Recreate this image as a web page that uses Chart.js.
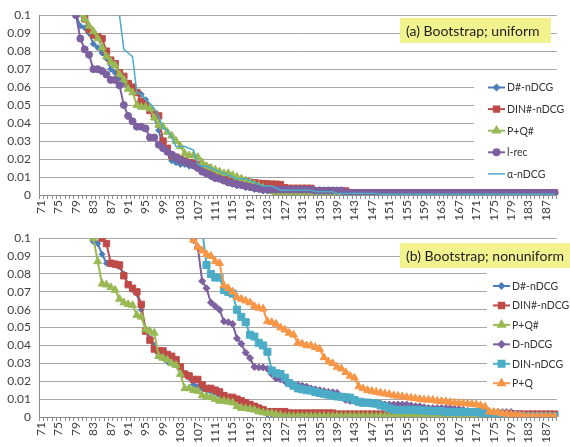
<!DOCTYPE html>
<html>
<head>
<meta charset="utf-8">
<script src="https://cdn.jsdelivr.net/npm/chart.js@4.4.1/dist/chart.umd.min.js"></script>
<style>
  html, body { margin: 0; padding: 0; background: #fff; }
  #wrapA { position: absolute; left: 0; top: 0; width: 570px; height: 222px; overflow: hidden; }
  #wrapB { position: absolute; left: 0; top: 223px; width: 570px; height: 224px; overflow: hidden; }
</style>
</head>
<body>
<div id="wrapA"><canvas id="chartA" width="570" height="250"></canvas></div>
<div id="wrapB"><canvas id="chartB" width="570" height="224"></canvas></div>
<script>
// categories 71 .. 189
const categories = [];
for (let c = 71; c <= 189; c++) categories.push(String(c));

const yTicks = [0, 0.01, 0.02, 0.03, 0.04, 0.05, 0.06, 0.07, 0.08, 0.09, 0.1];

// ---- (a) Bootstrap; uniform ----  (rows of 10: 71-80, 81-90, ...)
const aDsharp = [
  null, null, null, null, null, null, null, 0.2, 0.100, 0.094,
  0.093, 0.090, 0.084, 0.082, 0.079, 0.076, 0.070, 0.068, 0.065, 0.062,
  0.061, 0.059, 0.057, 0.056, 0.053, 0.048, 0.043, 0.036, 0.027, 0.024,
  0.019, 0.018, 0.017, 0.017, 0.016, 0.016, 0.015, 0.013, 0.012, 0.010,
  0.009, 0.009, 0.008, 0.007, 0.006, 0.005, 0.005, 0.004, 0.004, 0.003,
  0.003, 0.0022, 0.0022, 0.0022, 0.0022, 0.0022, 0.0022, 0.0022, 0.0022, 0.0022,
  0.0018, 0.0018, 0.0018, 0.0018, 0.0018, 0.0018, 0.0018, 0.0018, 0.0018, 0.0018,
  0.0012, 0.0012, 0.0012, 0.0012, 0.0012, 0.0012, 0.0012, 0.0012, 0.0012, 0.0012,
  0.0012, 0.0012, 0.0012, 0.0012, 0.0012, 0.0012, 0.0012, 0.0012, 0.0012, 0.0012,
  0.0012, 0.0012, 0.0012, 0.0012, 0.0012, 0.0012, 0.0012, 0.0012, 0.0012, 0.0012,
  0.0012, 0.0012, 0.0012, 0.0012, 0.0012, 0.0012, 0.0012, 0.0012, 0.0012, 0.0012,
  0.0012, 0.0012, 0.0012, 0.0012, 0.0012, 0.0012, 0.0012, 0.0012, 0.0012
];
const aDINsharp = [
  null, null, null, null, null, null, null, null, 0.2, 0.102,
  0.098, 0.092, 0.089, 0.088, 0.087, 0.080, 0.075, 0.073, 0.068, 0.066,
  0.062, 0.060, 0.057, 0.052, 0.050, 0.047, 0.045, 0.044, 0.030, 0.026,
  0.022, 0.021, 0.020, 0.019, 0.018, 0.018, 0.017, 0.016, 0.015, 0.013,
  0.012, 0.011, 0.010, 0.010, 0.009, 0.008, 0.008, 0.0075, 0.007, 0.0068,
  0.0065, 0.0063, 0.0062, 0.006, 0.006, 0.0058, 0.004, 0.0037, 0.0037, 0.0037,
  0.0037, 0.0037, 0.0037, 0.0022, 0.0022, 0.0022, 0.0022, 0.0022, 0.0022, 0.0022,
  0.0022, 0.0012, 0.0012, 0.0012, 0.0012, 0.0012, 0.0012, 0.0012, 0.0012, 0.0012,
  0.0012, 0.0012, 0.0012, 0.0012, 0.0012, 0.0012, 0.0012, 0.0012, 0.0012, 0.0012,
  0.0012, 0.0012, 0.0012, 0.0012, 0.0012, 0.0012, 0.0012, 0.0012, 0.0012, 0.0012,
  0.0012, 0.0012, 0.0012, 0.0012, 0.0012, 0.0012, 0.0012, 0.0012, 0.0012, 0.0012,
  0.0012, 0.0012, 0.0012, 0.0012, 0.0012, 0.0012, 0.0012, 0.0012, 0.0012
];
const aPQsharp = [
  null, null, null, null, null, null, null, null, 0.2, 0.1005,
  0.098, 0.094, 0.091, 0.087, 0.082, 0.077, 0.074, 0.072, 0.067, 0.064,
  0.059, 0.057, 0.050, 0.049, 0.049, 0.048, 0.043, 0.039, 0.038, 0.035,
  0.033, 0.030, 0.027, 0.023, 0.022, 0.022, 0.021, 0.018, 0.016, 0.015,
  0.014, 0.013, 0.012, 0.012, 0.011, 0.010, 0.009, 0.008, 0.007, 0.006,
  0.005, 0.004, 0.003, 0.002, 0.001, 0.0003, 0.0003, 0.0003, 0.0003, 0.0003,
  0.0003, 0.0003, 0.0003, 0.0003, 0.0003, 0.0003, 0.0003, 0.0003, 0.0003, 0.0003,
  0.0003, 0, 0, 0, 0, 0, 0, 0, 0, 0,
  0, 0, 0, 0, 0, 0, 0, 0, 0, 0,
  0, 0, 0, 0, 0, 0, 0, 0, 0, 0,
  0, 0, 0, 0, 0, 0, 0, 0, 0, 0,
  0, 0, 0, 0, 0, 0, 0, 0, 0
];
const aLrec = [
  null, null, null, null, null, null, null, 0.2, 0.100, 0.087,
  0.081, 0.078, 0.070, 0.070, 0.069, 0.067, 0.064, 0.064, 0.061, 0.050,
  0.044, 0.041, 0.038, 0.038, 0.037, 0.032, 0.032, 0.028, 0.026, 0.024,
  0.0225, 0.021, 0.0195, 0.0185, 0.0175, 0.0165, 0.015, 0.013, 0.012, 0.011,
  0.0095, 0.009, 0.008, 0.007, 0.0065, 0.006, 0.0055, 0.005, 0.0045, 0.004,
  0.0035, 0.003, 0.003, 0.003, 0.003, 0.003, 0.003, 0.003, 0.003, 0.003,
  0.003, 0.003, 0.003, 0.0025, 0.0025, 0.0025, 0.0025, 0.0025, 0.0025, 0.0025,
  0.0012, 0.0012, 0.0012, 0.0012, 0.0012, 0.0012, 0.0012, 0.0012, 0.0012, 0.0012,
  0.0012, 0.0012, 0.0012, 0.0012, 0.0012, 0.0012, 0.0012, 0.0012, 0.0012, 0.0012,
  0.0012, 0.0012, 0.0012, 0.0012, 0.0012, 0.0012, 0.0012, 0.0012, 0.0012, 0.0012,
  0.0012, 0.0012, 0.0012, 0.0012, 0.0012, 0.0012, 0.0012, 0.0012, 0.0012, 0.0012,
  0.0012, 0.0012, 0.0012, 0.0012, 0.0012, 0.0012, 0.0012, 0.0012, 0.0012
];
const aAlpha = [
  null, null, null, null, null, null, null, null, null, null,
  null, null, null, null, null, null, null, 0.3, 0.100, 0.081,
  0.079, 0.077, 0.057, 0.056, 0.053, 0.051, 0.048, 0.044, 0.037, 0.036,
  0.032, 0.027, 0.027, 0.027, 0.026, 0.025, 0.017, 0.016, 0.016, 0.015,
  0.014, 0.013, 0.012, 0.011, 0.010, 0.009, 0.009, 0.009, 0.008, 0.007,
  0.006, 0.005, 0.005, 0.005, 0.004, 0.0027, 0.0027, 0.0027, 0.0027, 0.0027,
  0.0027, 0.0027, 0.0027, 0.0018, 0.0018, 0.0018, 0.0018, 0.0018, 0.0009, 0.0009,
  0.0009, 0.0009, 0.0009, 0.0009, 0.0009, 0.0009, 0.0009, 0.0009, 0.0004, 0.0004,
  0.0004, 0.0004, 0.0004, 0.0004, 0.0004, 0.0004, 0.0004, 0.0004, 0.0004, 0.0004,
  0.0004, 0.0004, 0.0004, 0.0004, 0.0004, 0.0004, 0.0004, 0.0004, 0.0004, 0.0004,
  0.0004, 0.0004, 0.0004, 0.0004, 0.0004, 0.0004, 0.0004, 0.0004, 0.0004, 0.0004,
  0.0004, 0.0004, 0.0004, 0.0004, 0.0004, 0.0004, 0.0004, 0.0004, 0.0004
];

// ---- (b) Bootstrap; nonuniform ----
const bDsharp = [
  null, null, null, null, null, null, null, null, null, null,
  null, null, 0.098, 0.097, 0.091, 0.086, 0.086, 0.085, 0.084, 0.080,
  0.074, 0.071, 0.069, 0.060, 0.049, 0.044, 0.040, 0.034, 0.033, 0.031,
  0.030, 0.029, 0.027, 0.0245, 0.022, 0.018, 0.017, 0.016, 0.015, 0.014,
  0.013, 0.012, 0.011, 0.010, 0.010, 0.009, 0.008, 0.007, 0.0065, 0.005,
  0.004, 0.003, 0.0014, 0.0014, 0.0014, 0.0014, 0.0014, 0.0014, 0.0014, 0.0014,
  0.0014, 0.0014, 0.0014, 0.0014, 0.0014, 0.0014, 0.0014, 0.0014, 0.0014, 0.0014,
  0.0014, 0.0014, 0.0014, 0.0014, 0.0014, 0.0014, 0.0014, 0.0014, 0.0014, 0.0014,
  0.0014, 0.0014, 0.0014, 0.0014, 0.0014, 0.0014, 0.0014, 0.0014, 0.0014, 0.0014,
  0.0014, 0.0014, 0.0014, 0.0014, 0.0014, 0.0014, 0.0014, 0.0014, 0.0014, 0.0014,
  0.0014, 0.0014, 0.0014, 0.0014, 0.0014, 0.0014, 0.0014, 0.0014, 0.0014, 0.0014,
  0.0014, 0.0014, 0.0014, 0.0014, 0.0014, 0.0014, 0.0014, 0.0014, 0.0014
];
const bDINsharp = [
  null, null, null, null, null, null, null, null, null, null,
  null, null, null, null, 0.100, 0.097, 0.086, 0.0855, 0.085, 0.079,
  0.074, 0.072, 0.070, 0.063, 0.048, 0.043, 0.038, 0.037, 0.037, 0.035,
  0.034, 0.032, 0.028, 0.024, 0.023, 0.021, 0.021, 0.018, 0.016, 0.016,
  0.015, 0.014, 0.012, 0.011, 0.011, 0.010, 0.009, 0.008, 0.007, 0.006,
  0.005, 0.004, 0.003, 0.003, 0.003, 0.003, 0.003, 0.0022, 0.0022, 0.0022,
  0.0022, 0.0022, 0.0022, 0.0022, 0.0022, 0.0022, 0.0022, 0.0022, 0.0016, 0.0016,
  0.0016, 0.0016, 0.0016, 0.0016, 0.0016, 0.0016, 0.0016, 0.0016, 0.0016, 0.0016,
  0.0016, 0.0016, 0.0016, 0.0016, 0.0016, 0.0016, 0.0016, 0.0016, 0.0016, 0.0016,
  0.0016, 0.0016, 0.0016, 0.0016, 0.0016, 0.0016, 0.0016, 0.0016, 0.0016, 0.0016,
  0.0016, 0.0016, 0.0016, 0.0016, 0.0016, 0.0016, 0.0016, 0.0016, 0.0016, 0.0016,
  0.0016, 0.0016, 0.0016, 0.0016, 0.0016, 0.0016, 0.0016, 0.0016, 0.0016
];
const bPQsharp = [
  null, null, null, null, null, null, null, null, null, null,
  null, null, 0.100, 0.087, 0.0745, 0.074, 0.0725, 0.071, 0.066, 0.064,
  0.063, 0.0625, 0.057, 0.056, 0.049, 0.048, 0.047, 0.034, 0.033, 0.032,
  0.030, 0.029, 0.024, 0.016, 0.016, 0.015, 0.0145, 0.012, 0.0115, 0.011,
  0.010, 0.009, 0.009, 0.0085, 0.008, 0.006, 0.005, 0.0048, 0.0045, 0.004,
  0.003, 0.0025, 0.0022, 0.002, 0.0015, 0.001, 0.0004, 0.0004, 0.0004, 0.0004,
  0.0004, 0.0004, 0.0004, 0.0004, 0.0004, 0.0004, 0.0004, 0.0004, 0.0004, 0.0004,
  0.0004, 0.0004, 0.0004, 0.0004, 0.0004, 0.0004, 0.0004, 0.0004, 0.0004, 0.0004,
  0.0004, 0.0004, 0.0004, 0.0004, 0.0004, 0.0004, 0.0004, 0.0004, 0.0004, 0.0004,
  0, 0, 0, 0, 0, 0, 0, 0, 0, 0,
  0, 0, 0, 0, 0, 0, 0, 0, 0, 0,
  0, 0, 0, 0, 0, 0, 0, 0, 0
];
const bDnDCG = [
  null, null, null, null, null, null, null, null, null, null,
  null, null, null, null, null, null, null, null, null, null,
  null, null, null, null, null, null, null, null, null, null,
  null, null, null, null, null, 0.099, 0.095, 0.076, 0.072, 0.064,
  0.062, 0.060, 0.0535, 0.053, 0.052, 0.044, 0.041, 0.036, 0.033, 0.028,
  0.0277, 0.0277, 0.027, 0.024, 0.0215, 0.021, 0.020, 0.0186, 0.018, 0.018,
  0.0175, 0.017, 0.016, 0.0155, 0.015, 0.0145, 0.014, 0.0138, 0.0135, 0.011,
  0.0095, 0.009, 0.009, 0.0088, 0.0085, 0.0082, 0.008, 0.0078, 0.0075, 0.007,
  0.007, 0.007, 0.007, 0.007, 0.007, 0.0065, 0.006, 0.006, 0.0055, 0.005,
  0.005, 0.005, 0.005, 0.005, 0.005, 0.0045, 0.0045, 0.004, 0.0035, 0.003,
  0.003, 0.003, 0.003, 0.003, 0.0028, 0.0028, 0.0028, 0.0028, 0.0028, 0.002,
  0.002, 0.0012, 0.0012, 0.0012, 0.0012, 0.0012, 0.0012, 0.0012, 0.0012
];
const bDINnDCG = [
  null, null, null, null, null, null, null, null, null, null,
  null, null, null, null, null, null, null, null, null, null,
  null, null, null, null, null, null, null, null, null, null,
  null, null, null, null, null, null, null, 0.105, 0.085, 0.080,
  0.078, 0.078, 0.071, 0.070, 0.069, 0.060, 0.056, 0.053, 0.046, 0.045,
  0.0415, 0.040, 0.0365, 0.026, 0.0245, 0.024, 0.022, 0.019, 0.0175, 0.016,
  0.0155, 0.015, 0.0148, 0.014, 0.0135, 0.013, 0.0125, 0.012, 0.0115, 0.0113,
  0.011, 0.0108, 0.0095, 0.0085, 0.008, 0.008, 0.0077, 0.0075, 0.0065, 0.006,
  0.0048, 0.0042, 0.004, 0.004, 0.004, 0.004, 0.004, 0.0038, 0.0036, 0.0036,
  0.0033, 0.0033, 0.0033, 0.0028, 0.0028, 0.0028, 0.0028, 0.0028, 0.0028, 0.0028,
  0.0028, 0.0025, 0.002, 0.0015, 0.0012, 0.001, 0.0006, 0.0003, 0.0003, 0.0003,
  0.0003, 0.0003, 0.0003, 0.0003, 0.0003, 0.0003, 0.0003, 0.0003, 0.0003
];
const bPQ = [
  null, null, null, null, null, null, null, null, null, null,
  null, null, null, null, null, null, null, null, null, null,
  null, null, null, null, null, null, null, null, null, null,
  null, null, null, null, null, 0.099, 0.095, 0.093, 0.091, 0.090,
  0.087, 0.086, 0.0735, 0.072, 0.070, 0.067, 0.066, 0.065, 0.064, 0.062,
  0.061, 0.0605, 0.0535, 0.053, 0.052, 0.050, 0.0488, 0.047, 0.046, 0.0415,
  0.041, 0.040, 0.040, 0.039, 0.038, 0.0333, 0.031, 0.030, 0.028, 0.027,
  0.025, 0.023, 0.022, 0.017, 0.016, 0.015, 0.0145, 0.014, 0.0135, 0.013,
  0.0127, 0.012, 0.0118, 0.0115, 0.011, 0.0107, 0.0104, 0.010, 0.0097, 0.0096,
  0.0095, 0.009, 0.0088, 0.0086, 0.0083, 0.008, 0.0078, 0.0076, 0.0075, 0.0072,
  0.007, 0.0065, 0.0058, 0.003, 0.0027, 0.0025, 0.002, 0.0018, 0.0015, 0.0013,
  0.001, 0.0006, 0.0004, 0.0004, 0.0004, 0.0004, 0.0004, 0.0004, 0.0004
];

const BLUE = '#4a7ebb', RED = '#be4b48', GREEN = '#98b954',
      PURPLE = '#7d60a0', AQUA = '#4bacc6', ORANGE = '#f79646';
const FONT = 'Lato';

function series(label, data, color, style, radius, width) {
  return {
    label, data,
    borderColor: color, backgroundColor: color,
    borderWidth: width, tension: 0, fill: false,
    pointStyle: style, pointRadius: radius,
    pointBackgroundColor: color, pointBorderColor: color, pointBorderWidth: 1
  };
}

const decor = {
  id: 'decor',
  afterDraw(chart, args, o) {
    const ctx = chart.ctx;
    ctx.save();
    // yellow title box
    ctx.fillStyle = '#f2f28e';
    ctx.fillRect(o.tx, o.ty, o.tw, o.th);
    ctx.fillStyle = '#1e1e1e';
    ctx.font = '14px ' + FONT;
    ctx.textBaseline = 'middle';
    ctx.textAlign = 'left';
    ctx.fillText(o.title, o.tx + 6, o.ty + o.th / 2 + 1);
    // legend
    ctx.fillStyle = '#fff';
    ctx.fillRect(o.lx, o.ly, o.lw, o.lh);
    chart.data.datasets.forEach((ds, i) => {
      const y = o.ly0 + i * o.lstep;
      ctx.strokeStyle = ds.borderColor;
      ctx.lineWidth = ds.borderWidth;
      ctx.beginPath();
      ctx.moveTo(o.lx0, y);
      ctx.lineTo(o.lx0 + 17, y);
      ctx.stroke();
      if (ds.pointRadius > 0) {
        ctx.fillStyle = ds.pointBackgroundColor;
        ctx.strokeStyle = ds.pointBorderColor;
        Chart.helpers.drawPoint(ctx, { pointStyle: ds.pointStyle, radius: ds.pointRadius * 0.85, rotation: 0, borderWidth: 1 }, o.lx0 + 8.5, y);
      }
      ctx.fillStyle = '#333';
      ctx.font = '10.5px ' + FONT;
      ctx.fillText(ds.label, o.lx0 + 19, y + 0.5);
    });
    ctx.restore();
  }
};

function scales(xHeight) {
  return {
    x: {
      type: 'category', offset: true,
      grid: { display: true, drawOnChartArea: false, drawTicks: true, tickLength: 4, color: '#8c8c8c', offset: true },
      border: { display: true, color: '#8c8c8c' },
      ticks: {
        autoSkip: false, maxRotation: 90, minRotation: 90, padding: 1,
        color: '#404040', font: { family: FONT, size: 12 },
        callback: function (v, i) { return i % 4 === 0 ? this.getLabelForValue(v) : ''; }
      },
      afterFit: s => { s.height = xHeight; }
    },
    y: {
      min: 0, max: 0.1,
      afterBuildTicks: s => { s.ticks = yTicks.map(v => ({ value: v })); },
      ticks: {
        padding: 8, color: '#404040', font: { family: FONT, size: 12 },
        callback: v => String(parseFloat(v.toFixed(2)))
      },
      grid: { color: '#a6a6a6', drawTicks: false },
      border: { display: true, color: '#8c8c8c' },
      afterFit: s => { s.width = 39; }
    }
  };
}

function makeChart(id, datasets, xHeight, padTop, deco) {
  datasets.forEach((d, i) => { d.order = datasets.length - i; });
  return new Chart(document.getElementById(id), {
    type: 'line',
    data: { labels: categories, datasets },
    options: {
      responsive: false, animation: false, devicePixelRatio: 1,
      layout: { padding: { top: padTop, left: 0, right: 0, bottom: 0 } },
      plugins: { legend: { display: false }, tooltip: { enabled: false }, decor: deco },
      scales: scales(xHeight)
    },
    plugins: [decor]
  });
}

function draw() {
  makeChart('chartA', [
    series('D#-nDCG', aDsharp, BLUE, 'rectRot', 3, 2),
    series('DIN#-nDCG', aDINsharp, RED, 'rect', 4.5, 2),
    series('P+Q#', aPQsharp, GREEN, 'triangle', 4.5, 2),
    series('l-rec', aLrec, PURPLE, 'circle', 3.5, 2),
    series('α-nDCG', aAlpha, AQUA, 'circle', 0, 1.5)
  ], 55, 13, {
    title: '(a) Bootstrap; uniform', tx: 400, ty: 18, tw: 151, th: 25,
    lx: 474, ly: 74, lw: 96, lh: 114, lx0: 488, ly0: 87.5, lstep: 21.6
  });
  makeChart('chartB', [
    series('D#-nDCG', bDsharp, BLUE, 'rectRot', 3, 2),
    series('DIN#-nDCG', bDINsharp, RED, 'rect', 4.5, 2),
    series('P+Q#', bPQsharp, GREEN, 'triangle', 4.5, 2),
    series('D-nDCG', bDnDCG, PURPLE, 'rectRot', 3.5, 2),
    series('DIN-nDCG', bDINnDCG, AQUA, 'rect', 5, 2),
    series('P+Q', bPQ, ORANGE, 'triangle', 4.5, 2)
  ], 30, 12, {
    title: '(b) Bootstrap; nonuniform', tx: 400, ty: 20, tw: 175, th: 25,
    lx: 487, ly: 48, lw: 83, lh: 124, lx0: 493, ly0: 63, lstep: 19.45
  });
}

if (document.fonts && document.fonts.load) {
  Promise.all([document.fonts.load('12px Lato'), document.fonts.load('14px Lato')]).then(draw, draw);
} else {
  draw();
}
</script>
</body>
</html>
